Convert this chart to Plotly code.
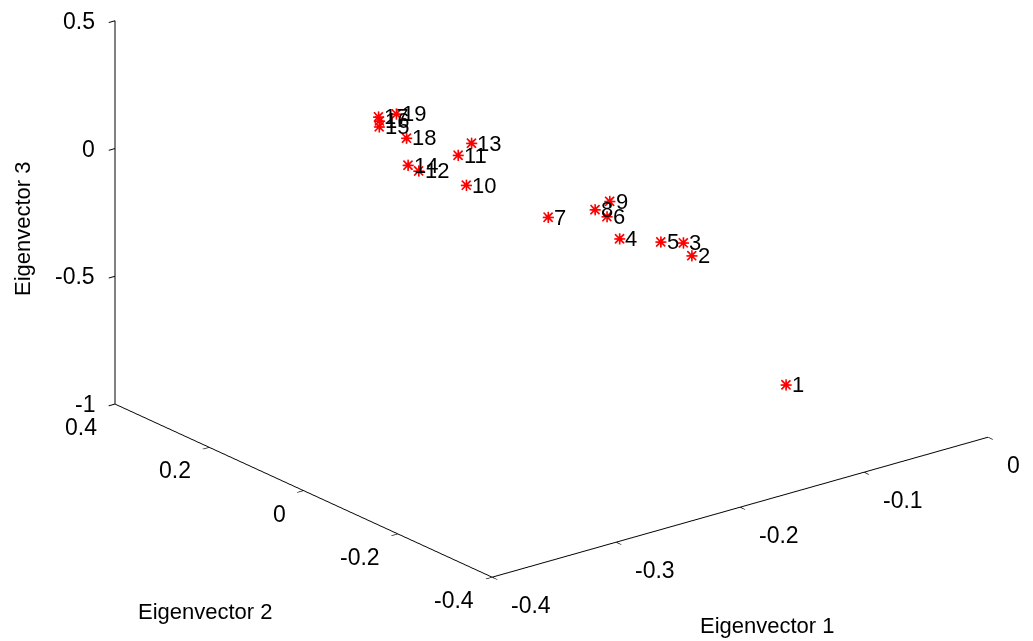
import math
import plotly.graph_objects as go

labels = [str(i) for i in range(1, 20)]
ev1 = [-0.125, -0.182, -0.185, -0.206, -0.188, -0.201, -0.218, -0.203, -0.195, -0.246,
       -0.245, -0.254, -0.238, -0.255, -0.244, -0.240, -0.237, -0.241, -0.234]
ev2 = [-0.30, -0.25, -0.24, -0.16, -0.20, -0.12, -0.04, -0.10, -0.11, 0.06,
       0.08, 0.14, 0.07, 0.16, 0.25, 0.26, 0.27, 0.20, 0.24]
ev3 = [-0.708, -0.167, -0.121, -0.144, -0.147, -0.098, -0.145, -0.085, -0.055, -0.066,
       0.033, -0.067, 0.079, -0.060, -0.001, 0.008, 0.011, -0.007, 0.044]

x_ticks = [-0.4, -0.3, -0.2, -0.1, 0]
y_ticks = [-0.4, -0.2, 0, 0.2, 0.4]
z_ticks = [-1, -0.5, 0, 0.5]
x_range = [-0.4, 0]
y_range = [-0.4, 0.4]
z_range = [-1, 0.5]

FONT = "Liberation Sans, Arial, sans-serif"
FS_TICK = 23
FS_LAB = 22
FS_TITLE = 22

fig = go.Figure()
# MATLAB-style '*' marker: a '+' and an 'x' glyph centred on each point
for glyph in ("+", "×"):
    fig.add_trace(go.Scatter3d(x=ev1, y=ev2, z=ev3, mode="text",
                               text=[glyph] * len(ev1), textposition="middle center",
                               textfont=dict(family=FONT, size=23, color="red"),
                               hoverinfo="skip", showlegend=False))

def ax(rng, ticks):
    return dict(range=rng, tickvals=ticks, showticklabels=False,
                showgrid=False, zeroline=False, showbackground=False,
                showline=True, linecolor="black", linewidth=2,
                ticks="outside", ticklen=8, tickwidth=2, tickcolor="black",
                showspikes=False, title=dict(text=""))

anns = []
for xi, yi, zi, lab in zip(ev1, ev2, ev3, labels):
    anns.append(dict(x=xi, y=yi, z=zi, text=lab, showarrow=False,
                     xanchor="left", yanchor="middle", xshift=4, yshift=0,
                     font=dict(family=FONT, size=FS_LAB, color="black")))
for t in x_ticks:
    anns.append(dict(x=t, y=y_range[0], z=z_range[0], text="%g" % t, showarrow=False,
                     xanchor="left", yanchor="middle", xshift=17, yshift=-28,
                     font=dict(family=FONT, size=FS_TICK, color="black")))
for t in y_ticks:
    anns.append(dict(x=x_range[0], y=t, z=z_range[0], text="%g" % t, showarrow=False,
                     xanchor="right", yanchor="middle", xshift=-16, yshift=-23,
                     font=dict(family=FONT, size=FS_TICK, color="black")))
for t in z_ticks:
    anns.append(dict(x=x_range[0], y=y_range[1], z=t, text="%g" % t, showarrow=False,
                     xanchor="right", yanchor="middle", xshift=-18, yshift=0,
                     font=dict(family=FONT, size=FS_TICK, color="black")))

# view: azimuth / elevation (MATLAB style), orthographic
az = math.radians(38.1)
el = math.radians(21.1)
d = (-math.sin(az) * math.cos(el), -math.cos(az) * math.cos(el), math.sin(el))
r = (math.cos(az), -math.sin(az), 0.0)
u = (math.sin(az) * math.sin(el), math.cos(az) * math.sin(el), math.cos(el))
k = 1.966
ppu = 641 / 2.0          # pixels per scene unit
shift_r, shift_u = 35 / ppu, 91.5 / ppu
c = tuple(-shift_r * r[i] - shift_u * u[i] for i in range(3))
eye = tuple(c[i] + 10 * d[i] for i in range(3))

fig.update_layout(
    width=1033, height=641, autosize=False,
    margin=dict(l=0, r=0, t=0, b=0),
    paper_bgcolor="white",
    scene=dict(
        domain=dict(x=[0, 1], y=[0, 1]),
        xaxis=ax(x_range, x_ticks),
        yaxis=ax(y_range, y_ticks),
        zaxis=ax(z_range, z_ticks),
        aspectmode="manual", aspectratio=dict(x=k, y=0.97 * k, z=0.652 * k),
        camera=dict(projection=dict(type="orthographic"),
                    eye=dict(x=eye[0], y=eye[1], z=eye[2]),
                    up=dict(x=0, y=0, z=1), center=dict(x=c[0], y=c[1], z=c[2])),
        annotations=anns,
    ),
    annotations=[
        dict(text="Eigenvector 1", x=767/1033, y=1-625/641, xref="paper", yref="paper",
             xanchor="center", yanchor="middle", showarrow=False,
             font=dict(family=FONT, size=FS_TITLE, color="black")),
        dict(text="Eigenvector 2", x=205/1033, y=1-611/641, xref="paper", yref="paper",
             xanchor="center", yanchor="middle", showarrow=False,
             font=dict(family=FONT, size=FS_TITLE, color="black")),
        dict(text="Eigenvector 3", x=22/1033, y=1-229/641, xref="paper", yref="paper",
             xanchor="center", yanchor="middle", showarrow=False, textangle=-90,
             font=dict(family=FONT, size=FS_TITLE, color="black")),
    ],
)

fig.write_html("out.html")
